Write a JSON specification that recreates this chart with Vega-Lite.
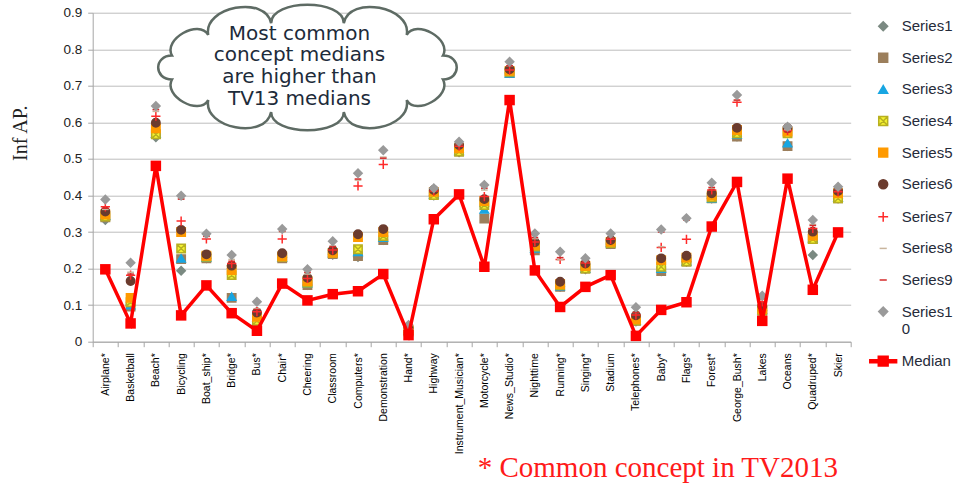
{
"$schema":"https://vega.github.io/schema/vega-lite/v6.json",
"width":758,"height":329,
"autosize":"none",
"padding":{"left":92.7,"top":12.7,"right":112.3,"bottom":142.3},
"background":"white",
"config":{"view":{"stroke":null},"font":"Liberation Sans"},
"title":{"text":"* Common concept in TV2013","orient":"bottom","anchor":"start","dx":467,"offset":0,"font":"Liberation Serif","fontSize":29,"fontWeight":"normal","color":"#ff1a1a"},
"data":{"values":[
{"c":"Airplane*","s":"Series1","v":0.333},{"c":"Basketball","s":"Series1","v":0.1},{"c":"Beach*","s":"Series1","v":0.559},{"c":"Bicycling","s":"Series1","v":0.194},{"c":"Boat_ship*","s":"Series1","v":0.228},{"c":"Bridge*","s":"Series1","v":0.2},{"c":"Bus*","s":"Series1","v":0.055},{"c":"Chair*","s":"Series1","v":0.23},{"c":"Cheering","s":"Series1","v":0.155},{"c":"Classroom","s":"Series1","v":0.238},{"c":"Computers*","s":"Series1","v":0.232},{"c":"Demonstration","s":"Series1","v":0.278},{"c":"Hand*","s":"Series1","v":0.025},{"c":"Highway","s":"Series1","v":0.4},{"c":"Instrument_Musician*","s":"Series1","v":0.518},{"c":"Motorcycle*","s":"Series1","v":0.37},{"c":"News_Studio*","s":"Series1","v":0.735},{"c":"Nighttime","s":"Series1","v":0.25},{"c":"Running*","s":"Series1","v":0.15},{"c":"Singing*","s":"Series1","v":0.198},{"c":"Stadium","s":"Series1","v":0.267},{"c":"Telephones*","s":"Series1","v":0.055},{"c":"Baby*","s":"Series1","v":0.193},{"c":"Flags*","s":"Series1","v":0.219},{"c":"Forest*","s":"Series1","v":0.392},{"c":"George_Bush*","s":"Series1","v":0.561},{"c":"Lakes","s":"Series1","v":0.085},{"c":"Oceans","s":"Series1","v":0.535},{"c":"Quadruped*","s":"Series1","v":0.237},{"c":"Skier","s":"Series1","v":0.392},
{"c":"Airplane*","s":"Series2","v":0.34},{"c":"Basketball","s":"Series2","v":0.096},{"c":"Beach*","s":"Series2","v":0.568},{"c":"Bicycling","s":"Series2","v":0.226},{"c":"Boat_ship*","s":"Series2","v":0.228},{"c":"Bridge*","s":"Series2","v":0.12},{"c":"Bus*","s":"Series2","v":0.055},{"c":"Chair*","s":"Series2","v":0.228},{"c":"Cheering","s":"Series2","v":0.155},{"c":"Classroom","s":"Series2","v":0.24},{"c":"Computers*","s":"Series2","v":0.234},{"c":"Demonstration","s":"Series2","v":0.278},{"c":"Hand*","s":"Series2","v":0.028},{"c":"Highway","s":"Series2","v":0.402},{"c":"Instrument_Musician*","s":"Series2","v":0.52},{"c":"Motorcycle*","s":"Series2","v":0.337},{"c":"News_Studio*","s":"Series2","v":0.735},{"c":"Nighttime","s":"Series2","v":0.25},{"c":"Running*","s":"Series2","v":0.15},{"c":"Singing*","s":"Series2","v":0.2},{"c":"Stadium","s":"Series2","v":0.267},{"c":"Telephones*","s":"Series2","v":0.057},{"c":"Baby*","s":"Series2","v":0.193},{"c":"Flags*","s":"Series2","v":0.219},{"c":"Forest*","s":"Series2","v":0.392},{"c":"George_Bush*","s":"Series2","v":0.561},{"c":"Lakes","s":"Series2","v":0.085},{"c":"Oceans","s":"Series2","v":0.535},{"c":"Quadruped*","s":"Series2","v":0.281},{"c":"Skier","s":"Series2","v":0.392},
{"c":"Airplane*","s":"Series3","v":0.345},{"c":"Basketball","s":"Series3","v":0.1},{"c":"Beach*","s":"Series3","v":0.57},{"c":"Bicycling","s":"Series3","v":0.228},{"c":"Boat_ship*","s":"Series3","v":0.23},{"c":"Bridge*","s":"Series3","v":0.123},{"c":"Bus*","s":"Series3","v":0.058},{"c":"Chair*","s":"Series3","v":0.23},{"c":"Cheering","s":"Series3","v":0.16},{"c":"Classroom","s":"Series3","v":0.242},{"c":"Computers*","s":"Series3","v":0.246},{"c":"Demonstration","s":"Series3","v":0.285},{"c":"Hand*","s":"Series3","v":0.03},{"c":"Highway","s":"Series3","v":0.403},{"c":"Instrument_Musician*","s":"Series3","v":0.522},{"c":"Motorcycle*","s":"Series3","v":0.362},{"c":"News_Studio*","s":"Series3","v":0.734},{"c":"Nighttime","s":"Series3","v":0.255},{"c":"Running*","s":"Series3","v":0.152},{"c":"Singing*","s":"Series3","v":0.2},{"c":"Stadium","s":"Series3","v":0.27},{"c":"Telephones*","s":"Series3","v":0.058},{"c":"Baby*","s":"Series3","v":0.2},{"c":"Flags*","s":"Series3","v":0.22},{"c":"Forest*","s":"Series3","v":0.392},{"c":"George_Bush*","s":"Series3","v":0.567},{"c":"Lakes","s":"Series3","v":0.087},{"c":"Oceans","s":"Series3","v":0.543},{"c":"Quadruped*","s":"Series3","v":0.283},{"c":"Skier","s":"Series3","v":0.395},
{"c":"Airplane*","s":"Series4","v":0.342},{"c":"Basketball","s":"Series4","v":0.108},{"c":"Beach*","s":"Series4","v":0.567},{"c":"Bicycling","s":"Series4","v":0.255},{"c":"Boat_ship*","s":"Series4","v":0.232},{"c":"Bridge*","s":"Series4","v":0.182},{"c":"Bus*","s":"Series4","v":0.057},{"c":"Chair*","s":"Series4","v":0.232},{"c":"Cheering","s":"Series4","v":0.162},{"c":"Classroom","s":"Series4","v":0.243},{"c":"Computers*","s":"Series4","v":0.253},{"c":"Demonstration","s":"Series4","v":0.289},{"c":"Hand*","s":"Series4","v":0.03},{"c":"Highway","s":"Series4","v":0.401},{"c":"Instrument_Musician*","s":"Series4","v":0.52},{"c":"Motorcycle*","s":"Series4","v":0.374},{"c":"News_Studio*","s":"Series4","v":0.738},{"c":"Nighttime","s":"Series4","v":0.26},{"c":"Running*","s":"Series4","v":0.155},{"c":"Singing*","s":"Series4","v":0.2},{"c":"Stadium","s":"Series4","v":0.27},{"c":"Telephones*","s":"Series4","v":0.058},{"c":"Baby*","s":"Series4","v":0.205},{"c":"Flags*","s":"Series4","v":0.219},{"c":"Forest*","s":"Series4","v":0.395},{"c":"George_Bush*","s":"Series4","v":0.57},{"c":"Lakes","s":"Series4","v":0.085},{"c":"Oceans","s":"Series4","v":0.57},{"c":"Quadruped*","s":"Series4","v":0.281},{"c":"Skier","s":"Series4","v":0.392},
{"c":"Airplane*","s":"Series5","v":0.348},{"c":"Basketball","s":"Series5","v":0.12},{"c":"Beach*","s":"Series5","v":0.584},{"c":"Bicycling","s":"Series5","v":0.3},{"c":"Boat_ship*","s":"Series5","v":0.235},{"c":"Bridge*","s":"Series5","v":0.196},{"c":"Bus*","s":"Series5","v":0.068},{"c":"Chair*","s":"Series5","v":0.233},{"c":"Cheering","s":"Series5","v":0.166},{"c":"Classroom","s":"Series5","v":0.243},{"c":"Computers*","s":"Series5","v":0.286},{"c":"Demonstration","s":"Series5","v":0.3},{"c":"Hand*","s":"Series5","v":0.032},{"c":"Highway","s":"Series5","v":0.41},{"c":"Instrument_Musician*","s":"Series5","v":0.529},{"c":"Motorcycle*","s":"Series5","v":0.385},{"c":"News_Studio*","s":"Series5","v":0.741},{"c":"Nighttime","s":"Series5","v":0.264},{"c":"Running*","s":"Series5","v":0.158},{"c":"Singing*","s":"Series5","v":0.207},{"c":"Stadium","s":"Series5","v":0.273},{"c":"Telephones*","s":"Series5","v":0.061},{"c":"Baby*","s":"Series5","v":0.223},{"c":"Flags*","s":"Series5","v":0.23},{"c":"Forest*","s":"Series5","v":0.4},{"c":"George_Bush*","s":"Series5","v":0.579},{"c":"Lakes","s":"Series5","v":0.089},{"c":"Oceans","s":"Series5","v":0.575},{"c":"Quadruped*","s":"Series5","v":0.29},{"c":"Skier","s":"Series5","v":0.406},
{"c":"Airplane*","s":"Series6","v":0.356},{"c":"Basketball","s":"Series6","v":0.166},{"c":"Beach*","s":"Series6","v":0.599},{"c":"Bicycling","s":"Series6","v":0.306},{"c":"Boat_ship*","s":"Series6","v":0.239},{"c":"Bridge*","s":"Series6","v":0.208},{"c":"Bus*","s":"Series6","v":0.08},{"c":"Chair*","s":"Series6","v":0.242},{"c":"Cheering","s":"Series6","v":0.175},{"c":"Classroom","s":"Series6","v":0.25},{"c":"Computers*","s":"Series6","v":0.294},{"c":"Demonstration","s":"Series6","v":0.308},{"c":"Hand*","s":"Series6","v":0.038},{"c":"Highway","s":"Series6","v":0.415},{"c":"Instrument_Musician*","s":"Series6","v":0.538},{"c":"Motorcycle*","s":"Series6","v":0.39},{"c":"News_Studio*","s":"Series6","v":0.745},{"c":"Nighttime","s":"Series6","v":0.272},{"c":"Running*","s":"Series6","v":0.164},{"c":"Singing*","s":"Series6","v":0.214},{"c":"Stadium","s":"Series6","v":0.278},{"c":"Telephones*","s":"Series6","v":0.072},{"c":"Baby*","s":"Series6","v":0.228},{"c":"Flags*","s":"Series6","v":0.235},{"c":"Forest*","s":"Series6","v":0.406},{"c":"George_Bush*","s":"Series6","v":0.585},{"c":"Lakes","s":"Series6","v":0.098},{"c":"Oceans","s":"Series6","v":0.584},{"c":"Quadruped*","s":"Series6","v":0.301},{"c":"Skier","s":"Series6","v":0.412},
{"c":"Airplane*","s":"Series7","v":0.369},{"c":"Basketball","s":"Series7","v":0.182},{"c":"Beach*","s":"Series7","v":0.617},{"c":"Bicycling","s":"Series7","v":0.33},{"c":"Boat_ship*","s":"Series7","v":0.281},{"c":"Bridge*","s":"Series7","v":0.214},{"c":"Bus*","s":"Series7","v":0.082},{"c":"Chair*","s":"Series7","v":0.281},{"c":"Cheering","s":"Series7","v":0.173},{"c":"Classroom","s":"Series7","v":0.251},{"c":"Computers*","s":"Series7","v":0.426},{"c":"Demonstration","s":"Series7","v":0.485},{"c":"Hand*","s":"Series7","v":0.035},{"c":"Highway","s":"Series7","v":0.412},{"c":"Instrument_Musician*","s":"Series7","v":0.535},{"c":"Motorcycle*","s":"Series7","v":0.397},{"c":"News_Studio*","s":"Series7","v":0.743},{"c":"Nighttime","s":"Series7","v":0.273},{"c":"Running*","s":"Series7","v":0.225},{"c":"Singing*","s":"Series7","v":0.215},{"c":"Stadium","s":"Series7","v":0.28},{"c":"Telephones*","s":"Series7","v":0.073},{"c":"Baby*","s":"Series7","v":0.258},{"c":"Flags*","s":"Series7","v":0.28},{"c":"Forest*","s":"Series7","v":0.415},{"c":"George_Bush*","s":"Series7","v":0.655},{"c":"Lakes","s":"Series7","v":0.109},{"c":"Oceans","s":"Series7","v":0.578},{"c":"Quadruped*","s":"Series7","v":0.31},{"c":"Skier","s":"Series7","v":0.41},
{"c":"Airplane*","s":"Series8","v":0.362},{"c":"Basketball","s":"Series8","v":0.19},{"c":"Beach*","s":"Series8","v":0.63},{"c":"Bicycling","s":"Series8","v":0.392},{"c":"Boat_ship*","s":"Series8","v":0.29},{"c":"Bridge*","s":"Series8","v":0.225},{"c":"Bus*","s":"Series8","v":0.09},{"c":"Chair*","s":"Series8","v":0.3},{"c":"Cheering","s":"Series8","v":0.185},{"c":"Classroom","s":"Series8","v":0.262},{"c":"Computers*","s":"Series8","v":0.442},{"c":"Demonstration","s":"Series8","v":0.505},{"c":"Hand*","s":"Series8","v":0.04},{"c":"Highway","s":"Series8","v":0.418},{"c":"Instrument_Musician*","s":"Series8","v":0.54},{"c":"Motorcycle*","s":"Series8","v":0.415},{"c":"News_Studio*","s":"Series8","v":0.755},{"c":"Nighttime","s":"Series8","v":0.282},{"c":"Running*","s":"Series8","v":0.224},{"c":"Singing*","s":"Series8","v":0.22},{"c":"Stadium","s":"Series8","v":0.283},{"c":"Telephones*","s":"Series8","v":0.08},{"c":"Baby*","s":"Series8","v":0.26},{"c":"Flags*","s":"Series8","v":0.333},{"c":"Forest*","s":"Series8","v":0.42},{"c":"George_Bush*","s":"Series8","v":0.66},{"c":"Lakes","s":"Series8","v":0.115},{"c":"Oceans","s":"Series8","v":0.58},{"c":"Quadruped*","s":"Series8","v":0.321},{"c":"Skier","s":"Series8","v":0.418},
{"c":"Airplane*","s":"Series9","v":0.365},{"c":"Basketball","s":"Series9","v":0.185},{"c":"Beach*","s":"Series9","v":0.635},{"c":"Bicycling","s":"Series9","v":0.39},{"c":"Boat_ship*","s":"Series9","v":0.288},{"c":"Bridge*","s":"Series9","v":0.22},{"c":"Bus*","s":"Series9","v":0.088},{"c":"Chair*","s":"Series9","v":0.302},{"c":"Cheering","s":"Series9","v":0.19},{"c":"Classroom","s":"Series9","v":0.26},{"c":"Computers*","s":"Series9","v":0.445},{"c":"Demonstration","s":"Series9","v":0.502},{"c":"Hand*","s":"Series9","v":0.04},{"c":"Highway","s":"Series9","v":0.415},{"c":"Instrument_Musician*","s":"Series9","v":0.54},{"c":"Motorcycle*","s":"Series9","v":0.42},{"c":"News_Studio*","s":"Series9","v":0.755},{"c":"Nighttime","s":"Series9","v":0.285},{"c":"Running*","s":"Series9","v":0.23},{"c":"Singing*","s":"Series9","v":0.22},{"c":"Stadium","s":"Series9","v":0.283},{"c":"Telephones*","s":"Series9","v":0.08},{"c":"Baby*","s":"Series9","v":0.3},{"c":"Flags*","s":"Series9","v":0.333},{"c":"Forest*","s":"Series9","v":0.422},{"c":"George_Bush*","s":"Series9","v":0.661},{"c":"Lakes","s":"Series9","v":0.118},{"c":"Oceans","s":"Series9","v":0.574},{"c":"Quadruped*","s":"Series9","v":0.318},{"c":"Skier","s":"Series9","v":0.415},
{"c":"Airplane*","s":"Series10","v":0.389},{"c":"Basketball","s":"Series10","v":0.216},{"c":"Beach*","s":"Series10","v":0.645},{"c":"Bicycling","s":"Series10","v":0.399},{"c":"Boat_ship*","s":"Series10","v":0.295},{"c":"Bridge*","s":"Series10","v":0.237},{"c":"Bus*","s":"Series10","v":0.109},{"c":"Chair*","s":"Series10","v":0.308},{"c":"Cheering","s":"Series10","v":0.198},{"c":"Classroom","s":"Series10","v":0.275},{"c":"Computers*","s":"Series10","v":0.461},{"c":"Demonstration","s":"Series10","v":0.524},{"c":"Hand*","s":"Series10","v":0.046},{"c":"Highway","s":"Series10","v":0.42},{"c":"Instrument_Musician*","s":"Series10","v":0.547},{"c":"Motorcycle*","s":"Series10","v":0.429},{"c":"News_Studio*","s":"Series10","v":0.766},{"c":"Nighttime","s":"Series10","v":0.296},{"c":"Running*","s":"Series10","v":0.246},{"c":"Singing*","s":"Series10","v":0.228},{"c":"Stadium","s":"Series10","v":0.296},{"c":"Telephones*","s":"Series10","v":0.094},{"c":"Baby*","s":"Series10","v":0.307},{"c":"Flags*","s":"Series10","v":0.338},{"c":"Forest*","s":"Series10","v":0.435},{"c":"George_Bush*","s":"Series10","v":0.675},{"c":"Lakes","s":"Series10","v":0.126},{"c":"Oceans","s":"Series10","v":0.588},{"c":"Quadruped*","s":"Series10","v":0.333},{"c":"Skier","s":"Series10","v":0.424},
{"c":"Airplane*","s":"Median","v":0.198},{"c":"Basketball","s":"Median","v":0.05},{"c":"Beach*","s":"Median","v":0.481},{"c":"Bicycling","s":"Median","v":0.072},{"c":"Boat_ship*","s":"Median","v":0.154},{"c":"Bridge*","s":"Median","v":0.078},{"c":"Bus*","s":"Median","v":0.03},{"c":"Chair*","s":"Median","v":0.159},{"c":"Cheering","s":"Median","v":0.113},{"c":"Classroom","s":"Median","v":0.13},{"c":"Computers*","s":"Median","v":0.138},{"c":"Demonstration","s":"Median","v":0.185},{"c":"Hand*","s":"Median","v":0.018},{"c":"Highway","s":"Median","v":0.335},{"c":"Instrument_Musician*","s":"Median","v":0.403},{"c":"Motorcycle*","s":"Median","v":0.205},{"c":"News_Studio*","s":"Median","v":0.661},{"c":"Nighttime","s":"Median","v":0.195},{"c":"Running*","s":"Median","v":0.095},{"c":"Singing*","s":"Median","v":0.15},{"c":"Stadium","s":"Median","v":0.182},{"c":"Telephones*","s":"Median","v":0.016},{"c":"Baby*","s":"Median","v":0.087},{"c":"Flags*","s":"Median","v":0.108},{"c":"Forest*","s":"Median","v":0.315},{"c":"George_Bush*","s":"Median","v":0.437},{"c":"Lakes","s":"Median","v":0.057},{"c":"Oceans","s":"Median","v":0.446},{"c":"Quadruped*","s":"Median","v":0.142},{"c":"Skier","s":"Median","v":0.299}
]},
"layer":[
{"data":{"values":[{"note":"cloud"}]},
 "mark":{"type":"point","shape":"M1.178,-0.104 C1.258,-0.246 0.943,-0.425 0.863,-0.283 C0.91,-0.529 0.363,-0.632 0.316,-0.386 C0.316,-0.599 -0.316,-0.599 -0.316,-0.386 C-0.363,-0.632 -0.91,-0.529 -0.863,-0.283 C-0.943,-0.425 -1.258,-0.246 -1.178,-0.104 C-1.338,-0.104 -1.338,0.104 -1.178,0.104 C-1.258,0.246 -0.943,0.425 -0.863,0.283 C-0.91,0.529 -0.363,0.632 -0.316,0.386 C-0.316,0.599 0.316,0.599 0.316,0.386 C0.363,0.632 0.91,0.529 0.863,0.283 C0.943,0.425 1.258,0.246 1.178,0.104 C1.338,0.104 1.338,-0.104 1.178,-0.104 Z","size":52900,"filled":true,"fill":"white","stroke":"#5e6b64","strokeWidth":2.5,"opacity":1},
 "encoding":{
  "x":{"datum":"Cheering","type":"nominal","title":null,
   "scale":{"type":"band","paddingInner":0,"paddingOuter":0,"domain":["Airplane*","Basketball","Beach*","Bicycling","Boat_ship*","Bridge*","Bus*","Chair*","Cheering","Classroom","Computers*","Demonstration","Hand*","Highway","Instrument_Musician*","Motorcycle*","News_Studio*","Nighttime","Running*","Singing*","Stadium","Telephones*","Baby*","Flags*","Forest*","George_Bush*","Lakes","Oceans","Quadruped*","Skier"]},
   "axis":{"labelAngle":-90,"labelFontSize":10.5,"labelColor":"#000000","tickBand":"extent","tickSize":5,"labelPadding":6,"domainColor":"#a6a6a6","tickColor":"#a6a6a6","grid":false,"labelLimit":200}},
  "y":{"datum":0.75,"type":"quantitative","scale":{"domain":[0,0.9],"nice":false},
   "axis":{"values":[0,0.1,0.2,0.3,0.4,0.5,0.6,0.7,0.8,0.9],"labelExpr":"datum.value == 0 ? '0' : format(datum.value, '.1f')","grid":true,"gridColor":"#bdbdbd","gridWidth":1,"domainColor":"#a6a6a6","tickColor":"#a6a6a6","tickSize":5,"labelPadding":6,"labelFontSize":13.5,"labelColor":"#222222","title":"Inf AP.","titleFont":"Liberation Serif","titleFontSize":20,"titleFontWeight":"normal","titleColor":"#222222","titleAngle":-90,"titleX":-72,"titleY":120,"titleAlign":"center","titleBaseline":"middle"}}}},
{"data":{"values":[{"note":"callout"}]},
 "mark":{"type":"text","text":["Most common","concept medians","are higher than","TV13 medians"],"font":"DejaVu Sans","fontSize":20,"lineHeight":21.7,"align":"center","baseline":"alphabetic","color":"#1d2b3a","dx":-8},
 "encoding":{
  "x":{"datum":"Cheering","type":"nominal","title":null,
   "scale":{"type":"band","paddingInner":0,"paddingOuter":0,"domain":["Airplane*","Basketball","Beach*","Bicycling","Boat_ship*","Bridge*","Bus*","Chair*","Cheering","Classroom","Computers*","Demonstration","Hand*","Highway","Instrument_Musician*","Motorcycle*","News_Studio*","Nighttime","Running*","Singing*","Stadium","Telephones*","Baby*","Flags*","Forest*","George_Bush*","Lakes","Oceans","Quadruped*","Skier"]},
   "axis":{"labelAngle":-90,"labelFontSize":10.5,"labelColor":"#000000","tickBand":"extent","tickSize":5,"labelPadding":6,"domainColor":"#a6a6a6","tickColor":"#a6a6a6","grid":false,"labelLimit":200}},
  "y":{"datum":0.826,"type":"quantitative","scale":{"domain":[0,0.9],"nice":false},
   "axis":{"values":[0,0.1,0.2,0.3,0.4,0.5,0.6,0.7,0.8,0.9],"labelExpr":"datum.value == 0 ? '0' : format(datum.value, '.1f')","grid":true,"gridColor":"#bdbdbd","gridWidth":1,"domainColor":"#a6a6a6","tickColor":"#a6a6a6","tickSize":5,"labelPadding":6,"labelFontSize":13.5,"labelColor":"#222222","title":"Inf AP.","titleFont":"Liberation Serif","titleFontSize":20,"titleFontWeight":"normal","titleColor":"#222222","titleAngle":-90,"titleX":-72,"titleY":120,"titleAlign":"center","titleBaseline":"middle"}}}},
{"transform":[{"filter":"datum.s != 'Median'"}],
 "mark":{"type":"point","filled":true,"size":70,"strokeWidth":1.5,"opacity":1},
 "encoding":{
  "x":{"field":"c","type":"nominal","title":null,
   "scale":{"type":"band","paddingInner":0,"paddingOuter":0,"domain":["Airplane*","Basketball","Beach*","Bicycling","Boat_ship*","Bridge*","Bus*","Chair*","Cheering","Classroom","Computers*","Demonstration","Hand*","Highway","Instrument_Musician*","Motorcycle*","News_Studio*","Nighttime","Running*","Singing*","Stadium","Telephones*","Baby*","Flags*","Forest*","George_Bush*","Lakes","Oceans","Quadruped*","Skier"]},
   "axis":{"labelAngle":-90,"labelFontSize":10.5,"labelColor":"#000000","tickBand":"extent","tickSize":5,"labelPadding":6,"domainColor":"#a6a6a6","tickColor":"#a6a6a6","grid":false,"labelLimit":200}},
  "y":{"field":"v","type":"quantitative","scale":{"domain":[0,0.9],"nice":false},
   "axis":{"values":[0,0.1,0.2,0.3,0.4,0.5,0.6,0.7,0.8,0.9],"labelExpr":"datum.value == 0 ? '0' : format(datum.value, '.1f')","grid":true,"gridColor":"#bdbdbd","gridWidth":1,"domainColor":"#a6a6a6","tickColor":"#a6a6a6","tickSize":5,"labelPadding":6,"labelFontSize":13.5,"labelColor":"#222222","title":"Inf AP.","titleFont":"Liberation Serif","titleFontSize":20,"titleFontWeight":"normal","titleColor":"#222222","titleAngle":-90,"titleX":-72,"titleY":120,"titleAlign":"center","titleBaseline":"middle"}},
  "shape":{"field":"s","type":"nominal","scale":{"domain":["Series1","Series2","Series3","Series4","Series5","Series6","Series7","Series8","Series9","Series10","Median"],"range":["diamond","square","triangle-up","M-1,-1H1V1H-1Z M-1,-1L1,1 M1,-1L-1,1","square","circle","M-1.1,0H1.1 M0,-1.1V1.1","M-0.8,0H0.8","M-0.8,0H0.8","diamond","M-3,-0.35H3V0.35H-3Z M-1.1,-1.1H1.1V1.1H-1.1Z"]},
   "legend":{"orient":"none","legendX":783,"legendY":6,"title":null,"labelFontSize":15,"labelFont":"Liberation Sans","labelColor":"#262b3a","rowPadding":15.6,"symbolSize":80,"labelOffset":11,"symbolStrokeWidth":1.5,"labelLimit":200,"labelExpr":"datum.label == 'Series10' ? ['Series1','0'] : datum.label"}},
  "fill":{"field":"s","type":"nominal","scale":{"domain":["Series1","Series2","Series3","Series4","Series5","Series6","Series7","Series8","Series9","Series10","Median"],"range":["#7b8a82","#9c7f5c","#18a6e2","#f4f230","#ff9a00","#6b3b2e","#ff2a2a","#c9b59d","#d42a2a","#9a9a9a","#ff0000"]},
   "legend":{"orient":"none","legendX":783,"legendY":6,"title":null,"labelFontSize":15,"labelFont":"Liberation Sans","labelColor":"#262b3a","rowPadding":15.6,"symbolSize":80,"labelOffset":11,"symbolStrokeWidth":1.5,"labelLimit":200,"labelExpr":"datum.label == 'Series10' ? ['Series1','0'] : datum.label"}},
  "stroke":{"field":"s","type":"nominal","scale":{"domain":["Series1","Series2","Series3","Series4","Series5","Series6","Series7","Series8","Series9","Series10","Median"],"range":["#7b8a82","#9c7f5c","#18a6e2","#b8b020","#ff9a00","#6b3b2e","#ff2a2a","#c9b59d","#d42a2a","#9a9a9a","#ff0000"]},
   "legend":{"orient":"none","legendX":783,"legendY":6,"title":null,"labelFontSize":15,"labelFont":"Liberation Sans","labelColor":"#262b3a","rowPadding":15.6,"symbolSize":80,"labelOffset":11,"symbolStrokeWidth":1.5,"labelLimit":200,"labelExpr":"datum.label == 'Series10' ? ['Series1','0'] : datum.label"}}
 }},
{"transform":[{"filter":"datum.s == 'Median'"}],
 "mark":{"type":"line","color":"#ff0000","strokeWidth":3.5},
 "encoding":{
  "x":{"field":"c","type":"nominal","title":null,
   "scale":{"type":"band","paddingInner":0,"paddingOuter":0,"domain":["Airplane*","Basketball","Beach*","Bicycling","Boat_ship*","Bridge*","Bus*","Chair*","Cheering","Classroom","Computers*","Demonstration","Hand*","Highway","Instrument_Musician*","Motorcycle*","News_Studio*","Nighttime","Running*","Singing*","Stadium","Telephones*","Baby*","Flags*","Forest*","George_Bush*","Lakes","Oceans","Quadruped*","Skier"]},
   "axis":{"labelAngle":-90,"labelFontSize":10.5,"labelColor":"#000000","tickBand":"extent","tickSize":5,"labelPadding":6,"domainColor":"#a6a6a6","tickColor":"#a6a6a6","grid":false,"labelLimit":200}},
  "y":{"field":"v","type":"quantitative","scale":{"domain":[0,0.9],"nice":false},
   "axis":{"values":[0,0.1,0.2,0.3,0.4,0.5,0.6,0.7,0.8,0.9],"labelExpr":"datum.value == 0 ? '0' : format(datum.value, '.1f')","grid":true,"gridColor":"#bdbdbd","gridWidth":1,"domainColor":"#a6a6a6","tickColor":"#a6a6a6","tickSize":5,"labelPadding":6,"labelFontSize":13.5,"labelColor":"#222222","title":"Inf AP.","titleFont":"Liberation Serif","titleFontSize":20,"titleFontWeight":"normal","titleColor":"#222222","titleAngle":-90,"titleX":-72,"titleY":120,"titleAlign":"center","titleBaseline":"middle"}}}},
{"transform":[{"filter":"datum.s == 'Median'"}],
 "mark":{"type":"square","color":"#ff0000","size":110,"opacity":1},
 "encoding":{
  "x":{"field":"c","type":"nominal","title":null,
   "scale":{"type":"band","paddingInner":0,"paddingOuter":0,"domain":["Airplane*","Basketball","Beach*","Bicycling","Boat_ship*","Bridge*","Bus*","Chair*","Cheering","Classroom","Computers*","Demonstration","Hand*","Highway","Instrument_Musician*","Motorcycle*","News_Studio*","Nighttime","Running*","Singing*","Stadium","Telephones*","Baby*","Flags*","Forest*","George_Bush*","Lakes","Oceans","Quadruped*","Skier"]},
   "axis":{"labelAngle":-90,"labelFontSize":10.5,"labelColor":"#000000","tickBand":"extent","tickSize":5,"labelPadding":6,"domainColor":"#a6a6a6","tickColor":"#a6a6a6","grid":false,"labelLimit":200}},
  "y":{"field":"v","type":"quantitative","scale":{"domain":[0,0.9],"nice":false},
   "axis":{"values":[0,0.1,0.2,0.3,0.4,0.5,0.6,0.7,0.8,0.9],"labelExpr":"datum.value == 0 ? '0' : format(datum.value, '.1f')","grid":true,"gridColor":"#bdbdbd","gridWidth":1,"domainColor":"#a6a6a6","tickColor":"#a6a6a6","tickSize":5,"labelPadding":6,"labelFontSize":13.5,"labelColor":"#222222","title":"Inf AP.","titleFont":"Liberation Serif","titleFontSize":20,"titleFontWeight":"normal","titleColor":"#222222","titleAngle":-90,"titleX":-72,"titleY":120,"titleAlign":"center","titleBaseline":"middle"}}}}
]
}
